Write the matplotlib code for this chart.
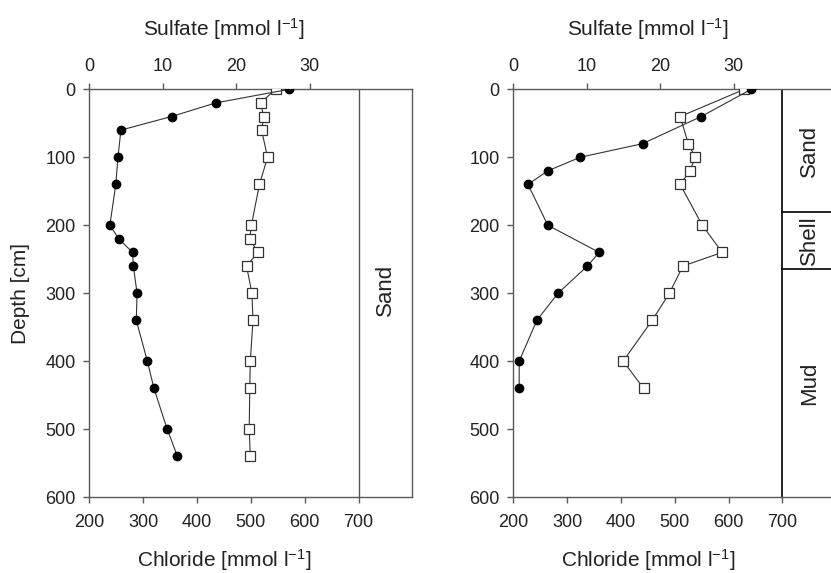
import matplotlib

matplotlib.use("Agg")
import matplotlib.pyplot as plt

plt.rcParams["font.family"] = ["Liberation Sans", "DejaVu Sans"]
plt.rcParams["mathtext.fontset"] = "custom"
plt.rcParams["mathtext.rm"] = "Liberation Sans"
plt.rcParams["mathtext.it"] = "Liberation Sans"

# left core: depth [cm], sulfate (filled circles, top axis), chloride (open squares, bottom axis)
left_sulfate_depth = [0, 20, 40, 60, 100, 140, 200, 220, 240, 260, 300, 340, 400, 440, 500, 540]
left_sulfate = [27.2, 17.2, 11.2, 4.3, 3.9, 3.6, 2.8, 4.0, 5.9, 6.0, 6.5, 6.4, 7.9, 8.8, 10.6, 12.0]
left_chloride_depth = [0, 20, 40, 60, 100, 140, 200, 220, 240, 260, 300, 340, 400, 440, 500, 540]
left_chloride = [546, 518, 524, 520, 531, 516, 501, 498, 513, 492, 502, 504, 499, 498, 497, 499]

# right core
right_sulfate_depth = [0, 40, 80, 100, 120, 140, 200, 240, 260, 300, 340, 400, 440]
right_sulfate = [32.4, 25.6, 17.6, 9.1, 4.7, 2.0, 4.7, 11.7, 10.1, 6.1, 3.2, 0.8, 0.8]
right_chloride_depth = [0, 40, 80, 100, 120, 140, 200, 240, 260, 300, 340, 400, 440]
right_chloride = [629, 510, 525, 538, 528, 510, 551, 588, 515, 490, 458, 404, 442]

# sediment layers (depth ranges) for the lithology strips
left_layers = [("Sand", 0, 600)]
right_layers = [("Sand", 0, 180), ("Shell", 180, 265), ("Mud", 265, 600)]

DEPTH_TICKS = [0, 100, 200, 300, 400, 500, 600]
CHLORIDE_TICKS = [200, 300, 400, 500, 600, 700]
SULFATE_TICKS = [0, 10, 20, 30]

SPINE = "#5a5a5a"
TEXT = "#222222"
TICK_FS = 13
LABEL_FS = 15
LAYER_FS = 16
LABEL_X = (450 - 200) / 600  # axis titles sit over the data part (200-700), not the strip


def draw_panel(fig, rect, sulf_d, sulf, chl_d, chl, layers, strip_color, strip_lw, ylabel):
    ax = fig.add_axes(rect)
    ax.set_xlim(200, 800)
    ax.set_ylim(600, 0)
    ax.set_xticks(CHLORIDE_TICKS)
    ax.set_yticks(DEPTH_TICKS)
    for spine in ax.spines.values():
        spine.set_color(SPINE)
        spine.set_linewidth(1.0)
    ax.tick_params(direction="out", length=4, width=1, color=SPINE, labelsize=TICK_FS, labelcolor=TEXT, pad=6)
    ax.tick_params(axis="x", pad=8)
    ax.set_xlabel(r"Chloride [mmol l$^{-1}$]", fontsize=LABEL_FS, color=TEXT, labelpad=12)
    ax.xaxis.label.set_x(LABEL_X)
    if ylabel:
        ax.set_ylabel("Depth [cm]", fontsize=LABEL_FS, color=TEXT, labelpad=11)

    ax.plot(chl, chl_d, color="#333333", lw=0.8, marker="s", markersize=6.5,
            markerfacecolor="white", markeredgecolor="#333333", markeredgewidth=0.9, zorder=3)

    ax2 = ax.twiny()
    ax2.set_xlim(0, 44)
    ax2.set_xticks(SULFATE_TICKS)
    for spine in ax2.spines.values():
        spine.set_visible(False)
    ax2.tick_params(direction="out", length=4, width=1, color=SPINE, labelsize=TICK_FS, labelcolor=TEXT, pad=6)
    ax2.set_xlabel(r"Sulfate [mmol l$^{-1}$]", fontsize=LABEL_FS, color=TEXT, labelpad=16)
    ax2.xaxis.label.set_x(LABEL_X)
    ax2.plot(sulf, sulf_d, color="#333333", lw=0.8, marker="o", markersize=6,
             markerfacecolor="black", markeredgecolor="black", zorder=4)

    # lithology strip
    ax.axvline(700, color=strip_color, lw=strip_lw, zorder=2)
    for i, (name, top, bottom) in enumerate(layers):
        if i > 0:
            ax.plot([700, 800], [top, top], color=strip_color, lw=strip_lw, clip_on=False)
        ax.text(750, (top + bottom) / 2 - (5 if len(layers) == 1 else 0), name, rotation=90,
                ha="center", va="center", fontsize=LAYER_FS, color=TEXT)
    return ax


fig = plt.figure(figsize=(8.31, 5.73), dpi=100)
draw_panel(fig, [0.1075, 0.1326, 0.3887, 0.7115], left_sulfate_depth, left_sulfate,
           left_chloride_depth, left_chloride, left_layers, "#555555", 1.0, True)
draw_panel(fig, [0.6177, 0.1326, 0.3887, 0.7115], right_sulfate_depth, right_sulfate,
           right_chloride_depth, right_chloride, right_layers, "#111111", 1.3, False)

fig.savefig("out.png", dpi=100)
plt.close(fig)
